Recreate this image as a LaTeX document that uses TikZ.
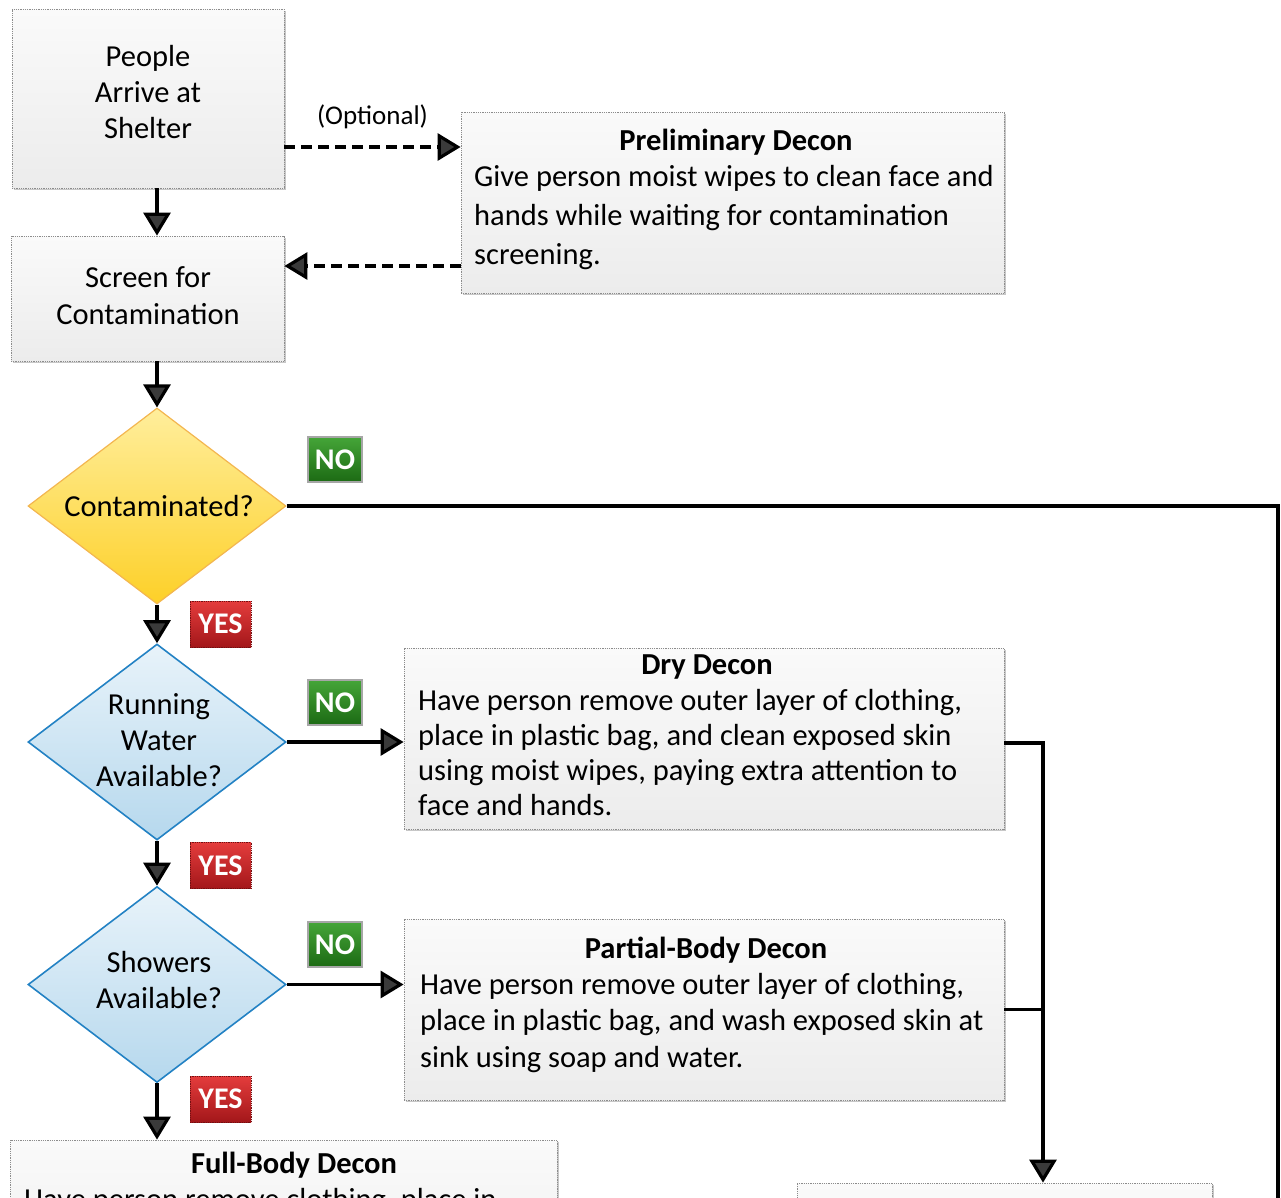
\documentclass[tikz,border=0pt]{standalone}
\usepackage{fontspec}
\setmainfont{Carlito}
\usetikzlibrary{arrows.meta,shapes.geometric,shadows}
\definecolor{boxtop}{HTML}{FAFAFA}
\definecolor{boxbot}{HTML}{ECECEC}
\definecolor{boxline}{HTML}{8C8C8C}
\definecolor{yeltop}{HTML}{FFEE9C}
\definecolor{yelmid}{HTML}{FFD42E}
\definecolor{yelbot}{HTML}{FDD028}
\definecolor{yelline}{HTML}{F3B650}
\definecolor{blutop}{HTML}{E8F3FA}
\definecolor{blubot}{HTML}{B6D8ED}
\definecolor{bluline}{HTML}{2382C4}
\definecolor{grntop}{HTML}{45A538}
\definecolor{grnbot}{HTML}{1C6A14}
\definecolor{redtop}{HTML}{E43C3C}
\definecolor{redbot}{HTML}{A3171A}
\definecolor{tipfill}{HTML}{3A3A3A}
\begin{document}
\begin{tikzpicture}[x=1pt,y=-1pt,
  boxnode/.style={rectangle, draw=boxline, densely dotted, line width=0.8pt,
    top color=boxtop, bottom color=boxbot, inner sep=0pt,
    drop shadow={shadow xshift=2pt, shadow yshift=-2pt, opacity=0.22, fill=black}},
  txt/.style={font=\fontsize{30.5}{36}\selectfont, inner sep=0pt, align=center},
  bodytxt/.style={font=\fontsize{30.5}{36}\selectfont, inner sep=0pt, align=left, anchor=north west},
  titletxt/.style={font=\fontsize{30.5}{36}\selectfont\bfseries, inner sep=0pt},
  decision/.style={diamond, inner sep=0pt, minimum width=258pt, minimum height=196pt},
  yellowdec/.style={decision, draw=yelline, line width=1.2pt, top color=yeltop, middle color=yelmid, bottom color=yelbot},
  bluedec/.style={decision, draw=bluline, line width=1.6pt, top color=blutop, bottom color=blubot},
  badge/.style={rectangle, inner sep=0pt, text=white, font=\fontsize{30}{30}\selectfont\bfseries},
  nobadge/.style={badge, minimum width=54pt, minimum height=45pt, draw=gray!70, line width=1.2pt, top color=grntop, bottom color=grnbot},
  yesbadge/.style={badge, minimum width=61pt, minimum height=46pt, draw=redbot!70!black, densely dotted, line width=0.8pt, top color=redtop, bottom color=redbot},
  flow/.style={draw=black, line width=3.2pt},
  arr/.style={flow, -{Triangle[length=23pt,width=27pt,fill=tipfill]}},
  darr/.style={arr, dash pattern=on 11pt off 6pt}
]
\useasboundingbox (0,0) rectangle (1281,1197);
\clip (0,0) rectangle (1281,1197);

% boxes
\node[boxnode, minimum width=272pt, minimum height=179pt] (people) at (148,98.5) {};
\node[txt] (peopletxt) at (148,92) {People\\Arrive at\\Shelter};

\node[boxnode, minimum width=273pt, minimum height=125pt] (screen) at (147.5,298.5) {};
\node[txt, font=\fontsize{30.5}{37}\selectfont] (screentxt) at (148,296) {Screen for\\Contamination};

\node[boxnode, minimum width=543pt, minimum height=181pt] (prelim) at (732.5,202.5) {};
\node[titletxt] (prelimtitle) at (736,142) {Preliminary Decon};
\node[bodytxt, font=\fontsize{30.5}{39}\selectfont] (prelimbody) at (474,165) {Give person moist wipes to clean face and\\hands while waiting for contamination\\screening.};

\node[boxnode, minimum width=600pt, minimum height=181pt] (dry) at (704,738.5) {};
\node[titletxt] (drytitle) at (707,667) {Dry Decon};
\node[bodytxt, font=\fontsize{30.5}{35.2}\selectfont] (drybody) at (418,689) {Have person remove outer layer of clothing,\\place in plastic bag, and clean exposed skin\\using moist wipes, paying extra attention to\\face and hands.};

\node[boxnode, minimum width=600pt, minimum height=181pt] (partial) at (704,1009.5) {};
\node[titletxt] (partialtitle) at (706,950) {Partial-Body Decon};
\node[bodytxt, font=\fontsize{30.5}{36.6}\selectfont] (partialbody) at (420,973) {Have person remove outer layer of clothing,\\place in plastic bag, and wash exposed skin at\\sink using soap and water.};

\node[boxnode, minimum width=547pt, minimum height=180pt] (fullbody) at (283.5,1230) {};
\node[titletxt] (fulltitle) at (294,1165) {Full-Body Decon};
\node[bodytxt] (fullbodytxt) at (24,1188) {Have person remove clothing, place in};

\node[boxnode, minimum width=415pt, minimum height=150pt] (endbox) at (1004.5,1258) {};

% decisions
\node[yellowdec] (d1) at (157,506) {};
\node[txt] (d1txt) at (159,506) {Contaminated?};
\node[bluedec] (d2) at (157,742) {};
\node[txt] (d2txt) at (159,740) {Running\\Water\\Available?};
\node[bluedec] (d3) at (157,984.5) {};
\node[txt] (d3txt) at (159,980) {Showers\\Available?};

% badges
\node[nobadge] (no1) at (335,459.5) {NO};
\node[yesbadge] (yes1) at (220.5,624) {YES};
\node[nobadge] (no2) at (335,702.5) {NO};
\node[yesbadge] (yes2) at (220.5,865.5) {YES};
\node[nobadge] (no3) at (335,944.5) {NO};
\node[yesbadge] (yes3) at (220.5,1099) {YES};

% connectors
\coordinate (o1) at ([yshift=-48.5pt]people.east);
\draw[darr] (o1) -- (o1 -| prelim.west) node[midway, above=17pt, txt, font=\fontsize{27}{27}\selectfont] (optional) {(Optional)};
\coordinate (o2) at ([yshift=-63.5pt]prelim.west);
\draw[darr] (o2) -- (o2 -| screen.east);

\draw[arr] (people.south -| d1.north) -- (screen.north -| d1.north);
\draw[arr] (screen.south -| d1.north) -- (d1.north);
\draw[arr] (d1.south) -- (d2.north);
\draw[arr] (d2.south) -- (d3.north);
\draw[arr] (d3.south) -- (d3.south |- fullbody.north);
\draw[arr] (d2.east) -- (d2.east -| dry.west);
\draw[arr] (d3.east) -- (d3.east -| partial.west);

\coordinate (rtop) at (1278,506);
\coordinate (rbot) at (1278,1260);
\draw[flow] (d1.east) -- (rtop) -- (rbot);

\coordinate (j) at (1043,743);
\coordinate (dryout) at ([yshift=-4.5pt]dry.east);
\draw[arr] (dryout) -| (endbox.north -| j);
\draw[flow] (partial.east) -- (partial.east -| j);
\end{tikzpicture}
\end{document}
